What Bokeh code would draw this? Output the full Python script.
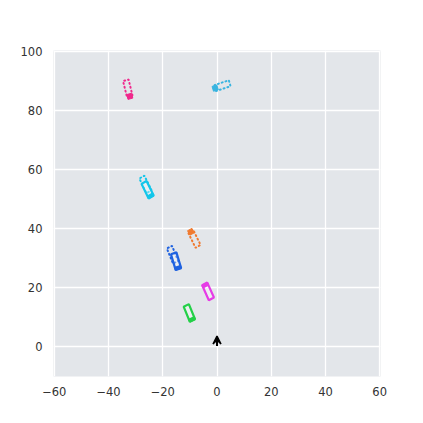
import numpy as np
from bokeh.plotting import figure
from bokeh.models import Range1d, FixedTicker, CustomJSTickFormatter, Arrow, VeeHead
from bokeh.embed import file_html
from bokeh.resources import INLINE

# ---- data ----
x_ticks = [-60, -40, -20, 0, 20, 40, 60]
y_ticks = [0, 20, 40, 60, 80, 100]

veh_names = ["pink", "sky", "cyan", "blue", "orange", "magenta", "green"]
veh_x = [-32.9, 2.0, -25.6, -15.1, -8.3, -3.3, -10.2]
veh_y = [87.5, 88.4, 53.2, 29.0, 36.5, 18.8, 11.5]
veh_heading = [-75, 197, -62, -72, 118, 116, -66]
veh_solid = [False, False, True, True, False, True, True]
veh_color = ["#f0288c", "#38b4e0", "#12c6ea", "#1f62e0", "#f07a30", "#e63ce6", "#24d048"]

ghost_x = [-26.4, -16.4]
ghost_y = [55.0, 31.2]
ghost_heading = [-62, -66]
ghost_color = ["#12c6ea", "#1f62e0"]

veh_length = 5.6
veh_width = 2.1

ego_x = 0.0
ego_y = 0.3
ego_heading = 90
ego_arrow_len = 3.4


def corners(cx, cy, hdeg, L, W):
    h = np.deg2rad(hdeg)
    u = np.array([np.cos(h), np.sin(h)])
    n = np.array([-np.sin(h), np.cos(h)])
    c = np.array([cx, cy])
    pts = [c + L / 2 * u + W / 2 * n, c - L / 2 * u + W / 2 * n,
           c - L / 2 * u - W / 2 * n, c + L / 2 * u - W / 2 * n]
    return [p[0] for p in pts], [p[1] for p in pts]


p = figure(frame_width=327, frame_height=326, output_backend="svg", toolbar_location=None,
           x_range=Range1d(-60.3, 60.3), y_range=Range1d(-10, 100.3),
           min_border_left=53, min_border_top=50, min_border_right=26, min_border_bottom=28)
p.background_fill_color = "#e3e6ea"
p.border_fill_color = "white"
p.outline_line_color = None

for ax in (p.xaxis[0], p.yaxis[0]):
    ax.axis_line_color = None
    ax.major_tick_line_color = None
    ax.minor_tick_line_color = None
    ax.major_tick_out = 0
    ax.major_tick_in = 0
    ax.major_label_text_font = "DejaVu Sans"
    ax.major_label_text_font_size = "11.5px"
    ax.major_label_text_color = "#333333"
    ax.formatter = CustomJSTickFormatter(code="return tick < 0 ? '\u2212' + (-tick) : '' + tick;")
p.xaxis[0].ticker = FixedTicker(ticks=x_ticks)
p.yaxis[0].ticker = FixedTicker(ticks=y_ticks)
p.xaxis[0].major_label_standoff = 10
p.yaxis[0].major_label_standoff = 11

p.xgrid.ticker = FixedTicker(ticks=x_ticks)
p.ygrid.ticker = FixedTicker(ticks=y_ticks)
p.grid.grid_line_color = "white"
p.grid.grid_line_width = 1.3

# ghost (dotted) positions
for gx, gy, gh, gc in zip(ghost_x, ghost_y, ghost_heading, ghost_color):
    xs, ys = corners(gx, gy, gh, veh_length, veh_width)
    p.patch(xs, ys, fill_alpha=0, line_color=gc, line_width=2.0,
            line_dash="1 3", line_cap="round")

for vx, vy, vh, vs, vc in zip(veh_x, veh_y, veh_heading, veh_solid, veh_color):
    xs, ys = corners(vx, vy, vh, veh_length, veh_width)
    if vs:
        p.patch(xs, ys, fill_color="white", fill_alpha=0.35, line_color=vc, line_width=2.2)
        fx, fy = corners(vx + (veh_length / 2 - 0.45) * np.cos(np.deg2rad(vh)),
                         vy + (veh_length / 2 - 0.45) * np.sin(np.deg2rad(vh)),
                         vh, 0.9, veh_width)
        p.patch(fx, fy, fill_color=vc, line_color=vc, line_width=1.5)
    else:
        p.patch(xs, ys, fill_alpha=0, line_color=vc, line_width=2.0,
                line_dash="1 3", line_cap="round")
        h = np.deg2rad(vh)
        p.scatter([vx + veh_length / 2 * np.cos(h)], [vy + veh_length / 2 * np.sin(h)],
                  marker="square", size=5, fill_color=vc, line_color=vc, angle=h)

h = np.deg2rad(ego_heading)
p.add_layout(Arrow(end=VeeHead(size=8, line_color="black", fill_color="black", line_width=1.5),
                   x_start=ego_x, y_start=ego_y,
                   x_end=ego_x + ego_arrow_len * np.cos(h), y_end=ego_y + ego_arrow_len * np.sin(h),
                   line_color="black", line_width=2))

open("out.html", "w").write(file_html(p, INLINE))
